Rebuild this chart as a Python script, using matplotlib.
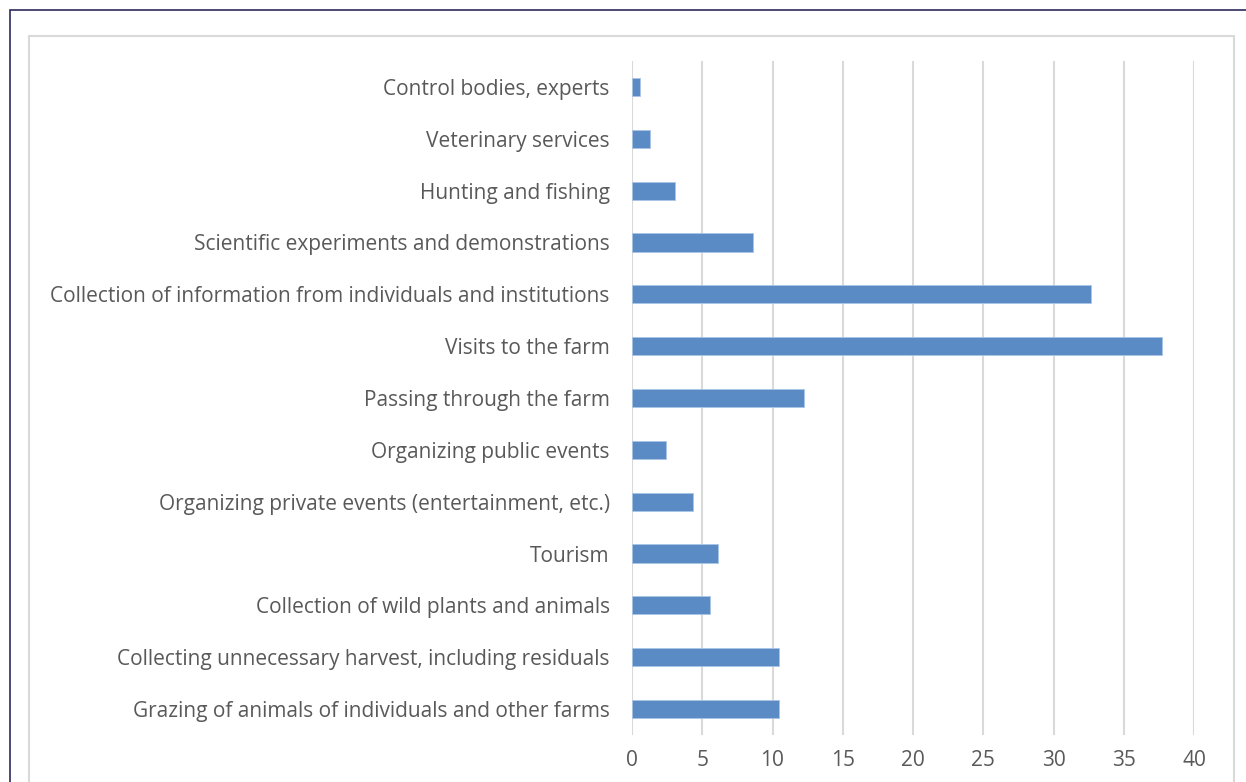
import numpy as np
import matplotlib.pyplot as plt
from matplotlib.patches import Rectangle

# categories listed bottom -> top
categories = [
    "Grazing of animals of individuals and other farms",
    "Collecting unnecessary harvest, including residuals",
    "Collection of wild plants and animals",
    "Tourism",
    "Organizing private events (entertainment, etc.)",
    "Organizing public events",
    "Passing through the farm",
    "Visits to the farm",
    "Collection of information from individuals and institutions",
    "Scientific experiments and demonstrations",
    "Hunting and fishing",
    "Veterinary services",
    "Control bodies, experts",
]
values = [10.45, 10.45, 5.55, 6.15, 4.35, 2.45, 12.25, 37.7, 32.7, 8.6, 3.05, 1.25, 0.6]
xticks = [0, 5, 10, 15, 20, 25, 30, 35, 40]

text_color = "#595959"
bar_color = "#5B8BC4"
grid_color = "#D9D9D9"

plt.rcParams['font.family'] = ['Open Sans', 'DejaVu Sans']

fig = plt.figure(figsize=(12.46, 7.82), dpi=100)
ax = fig.add_axes([632 / 1246, 47 / 782, 562 / 1246, 674 / 782])

y = np.arange(len(categories))
ax.barh(y, values, height=0.35, color=bar_color, edgecolor="#A9C4E6", linewidth=0.6, zorder=3)

ax.set_xlim(0, 40)
ax.set_ylim(-0.5, len(categories) - 0.5)
ax.set_xticks(xticks)
ax.set_xticklabels([str(t) for t in xticks], fontsize=15, color=text_color)
ax.set_yticks(y)
ax.set_yticklabels(categories, fontsize=15, color=text_color)
ax.tick_params(axis='both', length=0)
ax.tick_params(axis='y', pad=16)
ax.tick_params(axis='x', pad=11)
ax.grid(axis='x', color=grid_color, linewidth=1.5, zorder=0)
for s in ax.spines.values():
    s.set_visible(False)

# chart area border and outer frame
fig.add_artist(Rectangle((29 / 1246, -0.1), (1234 - 29) / 1246, 1.1 - 36 / 782,
                         transform=fig.transFigure, fill=False, edgecolor="#D9D9D9", linewidth=1.5))
fig.add_artist(Rectangle((10 / 1246, -0.1), 1.2, 1.1 - 10 / 782,
                         transform=fig.transFigure, fill=False, edgecolor="#2B2B5C", linewidth=1.2))

fig.savefig("out.png", dpi=100, facecolor="white")
